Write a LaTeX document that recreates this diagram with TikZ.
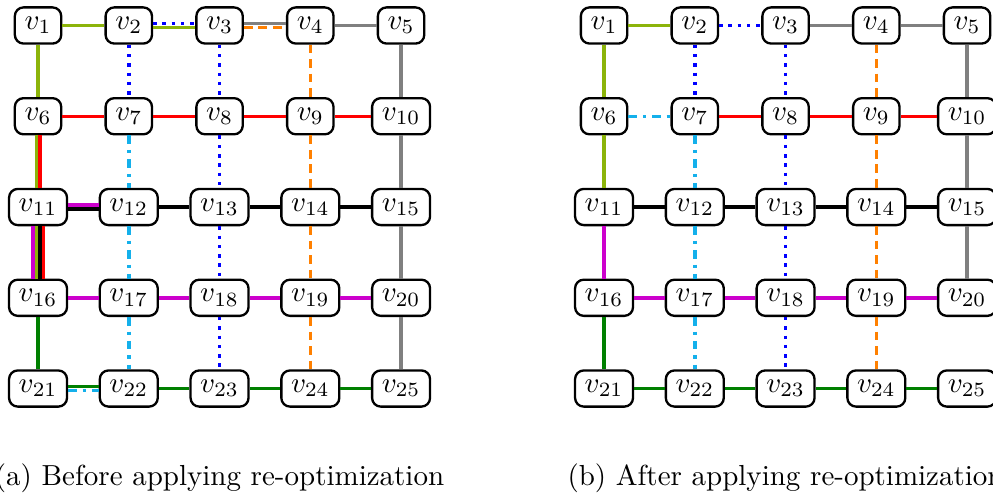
\documentclass[tikz,border=0pt]{standalone}
\usepackage{amsmath}
\usepackage[x11names, svgnames]{xcolor}
\definecolor{routeOlive}{RGB}{140,180,10}
\definecolor{routeSky}{RGB}{20,176,235}
\definecolor{routeMagenta}{RGB}{204,0,204}
\definecolor{routeGreen}{RGB}{0,128,0}
\definecolor{routeOrange}{RGB}{255,128,0}
\usepackage{tikz}
\usetikzlibrary{arrows.meta, calc}

\begin{document}
\begin{tikzpicture}[vertex/.style={draw, thick, fill=white, rounded corners=3pt},
	edge/.style={line width=1.2pt},
	olive/.style={edge, routeOlive}, bluedot/.style={edge, blue, dotted},
	grayline/.style={edge, gray}, orangedash/.style={edge, routeOrange, dash pattern=on 3pt off 2pt},
	redline/.style={edge, red}, skydash/.style={edge, routeSky, dashdotted},
	blackline/.style={edge, black}, magline/.style={edge, routeMagenta},
	greenline/.style={edge, routeGreen}]
	\clip (-0.461,0.309) rectangle (11.574,-5.70);
	% both grids, 5 x 5
	\foreach \k in {1,...,25} {
		\pgfmathtruncatemacro{\row}{(\k-1)/5}
		\pgfmathtruncatemacro{\col}{\k-1-5*\row}
		\node[vertex] (a\k) at (\col*1.1, -\row*1.1) {$v_{\k}$};
		\node[vertex] (b\k) at (6.86+\col*1.1, -\row*1.1) {$v_{\k}$};
	}
	% (a) before
	\draw[olive] (a1) -- (a2) (a1) -- (a6);
	\draw[olive, transform canvas={yshift=-0.65pt}] (a2) -- (a3);
	\draw[bluedot, transform canvas={yshift=0.65pt}] (a2) -- (a3);
	\draw[grayline, transform canvas={yshift=0.65pt}] (a3) -- (a4);
	\draw[orangedash, transform canvas={yshift=-0.65pt}] (a3) -- (a4);
	\draw[grayline] (a4) -- (a5) (a5) -- (a10) (a10) -- (a15) (a15) -- (a20) (a20) -- (a25);
	\draw[bluedot] (a2) -- (a7) (a3) -- (a8) (a8) -- (a13) (a13) -- (a18) (a18) -- (a23);
	\draw[orangedash] (a4) -- (a9) (a9) -- (a14) (a14) -- (a19) (a19) -- (a24);
	\draw[redline] (a6) -- (a7) (a7) -- (a8) (a8) -- (a9) (a9) -- (a10);
	\draw[olive, transform canvas={xshift=-0.6pt}] (a6) -- (a11);
	\draw[redline, transform canvas={xshift=0.6pt}] (a6) -- (a11);
	\draw[skydash] (a7) -- (a12) (a12) -- (a17) (a17) -- (a22);
	\draw[magline, transform canvas={yshift=0.65pt}] (a11) -- (a12);
	\draw[blackline, transform canvas={yshift=-0.65pt}] (a11) -- (a12);
	\draw[blackline] (a12) -- (a13) (a13) -- (a14) (a14) -- (a15);
	\draw[magline, transform canvas={xshift=-1.8pt}] (a11) -- (a16);
	\draw[olive, transform canvas={xshift=-0.6pt}] (a11) -- (a16);
	\draw[blackline, transform canvas={xshift=0.6pt}] (a11) -- (a16);
	\draw[redline, transform canvas={xshift=1.8pt}] (a11) -- (a16);
	\draw[magline] (a16) -- (a17) (a17) -- (a18) (a18) -- (a19) (a19) -- (a20);
	\draw[greenline] (a16) -- (a21) (a22) -- (a23) (a23) -- (a24) (a24) -- (a25);
	\draw[greenline, transform canvas={yshift=0.65pt}] (a21) -- (a22);
	\draw[skydash, transform canvas={yshift=-0.65pt}] (a21) -- (a22);
	% (b) after
	\draw[olive] (b1) -- (b2) (b1) -- (b6) (b6) -- (b11);
	\draw[bluedot] (b2) -- (b3) (b2) -- (b7) (b3) -- (b8) (b8) -- (b13) (b13) -- (b18) (b18) -- (b23);
	\draw[grayline] (b3) -- (b4) (b4) -- (b5) (b5) -- (b10) (b10) -- (b15) (b15) -- (b20);
	\draw[orangedash] (b4) -- (b9) (b9) -- (b14) (b14) -- (b19) (b19) -- (b24);
	\draw[skydash] (b6) -- (b7) (b7) -- (b12) (b12) -- (b17) (b17) -- (b22);
	\draw[redline] (b7) -- (b8) (b8) -- (b9) (b9) -- (b10);
	\draw[blackline] (b11) -- (b12) (b12) -- (b13) (b13) -- (b14) (b14) -- (b15);
	\draw[magline] (b11) -- (b16) (b16) -- (b17) (b17) -- (b18) (b18) -- (b19) (b19) -- (b20);
	\draw[greenline] (b16) -- (b21) (b21) -- (b22) (b22) -- (b23) (b23) -- (b24) (b24) -- (b25);
	% captions
	\node[anchor=base] (capa) at (2.2,-5.58) {(a) Before applying re-optimization};
	\node[anchor=base] (capb) at (9.06,-5.58) {(b) After applying re-optimization};
\end{tikzpicture}
\end{document}
